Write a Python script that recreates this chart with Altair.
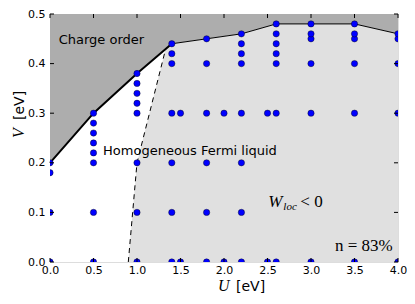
import altair as alt
import pandas as pd

# ---- data ----
point_U = ([0.0] * 4 + [0.5] * 8 + [1.0] * 8 + [1.4] * 7 + [1.5] * 2 + [1.8] * 6 +
           [2.0] * 2 + [2.2] * 8 + [2.5] * 2 + [2.6] * 7 + [3.0] * 6 + [3.5] * 6 + [4.0] * 5)
point_V = ([0.0, 0.1, 0.18, 0.2] +
           [0.0, 0.1, 0.2, 0.22, 0.24, 0.26, 0.28, 0.3] +
           [0.0, 0.1, 0.2, 0.3, 0.32, 0.34, 0.36, 0.38] +
           [0.0, 0.1, 0.2, 0.3, 0.4, 0.42, 0.44] +
           [0.0, 0.3] +
           [0.0, 0.1, 0.2, 0.3, 0.4, 0.45] +
           [0.0, 0.3] +
           [0.0, 0.1, 0.2, 0.3, 0.4, 0.42, 0.44, 0.46] +
           [0.0, 0.3] +
           [0.0, 0.3, 0.4, 0.42, 0.44, 0.46, 0.48] +
           [0.0, 0.3, 0.4, 0.45, 0.46, 0.48] +
           [0.0, 0.3, 0.4, 0.45, 0.46, 0.48] +
           [0.0, 0.3, 0.4, 0.45, 0.46])

bound_U = [0.0, 0.5, 1.0, 1.4, 1.8, 2.2, 2.6, 3.0, 3.5, 4.0]
bound_V = [0.2, 0.3, 0.38, 0.44, 0.45, 0.46, 0.48, 0.48, 0.48, 0.46]
thick_U = [0.0, 0.5, 1.0, 1.4]
thick_V = [0.2, 0.3, 0.38, 0.44]
thin_U = [1.4, 1.8, 2.2, 2.6, 3.0, 3.5, 4.0]
thin_V = [0.44, 0.45, 0.46, 0.48, 0.48, 0.48, 0.46]

dash_U = [0.9, 1.0, 1.33]
dash_V = [0.0, 0.2, 0.43]

white_U = [0.0, 0.5, 0.9, 1.0, 1.33]
white_top = [0.2, 0.3, 0.364, 0.38, 0.43]
white_bot = [0.0, 0.0, 0.0, 0.2, 0.43]

x_ticks = [0.0, 0.5, 1.0, 1.5, 2.0, 2.5, 3.0, 3.5, 4.0]
y_ticks = [0.0, 0.1, 0.2, 0.3, 0.4, 0.5]

W, H = 348, 248
TL = 4

xs = alt.Scale(domain=[0, 4], nice=False, zero=False)
ys = alt.Scale(domain=[0, 0.5], nice=False, zero=False)
xa = alt.Axis(values=x_ticks, format=".1f", ticks=False, tickSize=0, domain=False, grid=False,
              labelPadding=2, labelFontSize=11, labelFont="DejaVu Sans", labelColor="black",
              title=None, labelFlush=False, labelOverlap=False, labelBound=False)
ya = alt.Axis(values=y_ticks, format=".1f", ticks=False, tickSize=0, domain=False, grid=False,
              labelPadding=5, labelFontSize=11, labelFont="DejaVu Sans", labelColor="black",
              title=None, labelFlush=False, labelOverlap=False, labelBound=False)


def X(f):
    return alt.X(f, scale=xs, axis=xa, title=None)


def Y(f):
    return alt.Y(f, scale=ys, axis=ya, title=None)


bdf = pd.DataFrame({"U": bound_U, "V": bound_V, "top": [0.5] * len(bound_U), "bot": [0.0] * len(bound_U)})

dark = alt.Chart(bdf).mark_area(color="#adadad", opacity=1).encode(x=X("U:Q"), y=Y("top:Q"), y2="V:Q")
light = alt.Chart(bdf).mark_area(color="#e0e0e0", opacity=1).encode(x=X("U:Q"), y=Y("V:Q"), y2="bot:Q")

wdf = pd.DataFrame({"U": white_U, "top": white_top, "bot": white_bot})
white = alt.Chart(wdf).mark_area(color="white", opacity=1).encode(x=X("U:Q"), y=Y("top:Q"), y2="bot:Q")

thick = alt.Chart(pd.DataFrame({"U": thick_U, "V": thick_V})).mark_line(
    color="black", strokeWidth=2).encode(x=X("U:Q"), y=Y("V:Q"))
thin = alt.Chart(pd.DataFrame({"U": thin_U, "V": thin_V})).mark_line(
    color="black", strokeWidth=1).encode(x=X("U:Q"), y=Y("V:Q"))
dashed = alt.Chart(pd.DataFrame({"U": dash_U, "V": dash_V})).mark_line(
    color="black", strokeWidth=1, strokeDash=[5, 4]).encode(x=X("U:Q"), y=Y("V:Q"))

pts = alt.Chart(pd.DataFrame({"U": point_U, "V": point_V})).mark_circle(
    size=40, color="#0000ff", opacity=1, stroke="black", strokeWidth=0.4, clip=True).encode(
    x=X("U:Q"), y=Y("V:Q"))

# tick marks (inside, all four sides)
xt = pd.DataFrame({"t": x_ticks})
yt = pd.DataFrame({"t": y_ticks})
tb = alt.Chart(xt).mark_rule(color="black", strokeWidth=1).encode(
    x=X("t:Q"), y=alt.value(H), y2=alt.value(H - TL))
tt = alt.Chart(xt).mark_rule(color="black", strokeWidth=1).encode(
    x=X("t:Q"), y=alt.value(0), y2=alt.value(TL))
tlft = alt.Chart(yt).mark_rule(color="black", strokeWidth=1).encode(
    y=Y("t:Q"), x=alt.value(0), x2=alt.value(TL))
trgt = alt.Chart(yt).mark_rule(color="black", strokeWidth=1).encode(
    y=Y("t:Q"), x=alt.value(W), x2=alt.value(W - TL))

# annotations
ann_text = ["Charge order", "Homogeneous Fermi liquid"]
ann_U = [0.10, 0.61]
ann_V = [0.44, 0.215]
ann = alt.Chart(pd.DataFrame({"U": ann_U, "V": ann_V, "s": ann_text})).mark_text(
    align="left", baseline="alphabetic", font="DejaVu Sans", fontSize=13, color="black").encode(
    x=X("U:Q"), y=Y("V:Q"), text="s:N")

w_df = pd.DataFrame({"U": [2.51], "V": [0.11], "a": ["W"], "b": ["loc"], "c": ["< 0"]})
wa = alt.Chart(w_df).mark_text(align="left", baseline="alphabetic", font="Liberation Serif",
                               fontStyle="italic", fontSize=17, color="black").encode(
    x=X("U:Q"), y=Y("V:Q"), text="a:N")
wb = alt.Chart(w_df).mark_text(align="left", baseline="alphabetic", font="Liberation Serif",
                               fontStyle="italic", fontSize=11, color="black", dx=15, dy=3).encode(
    x=X("U:Q"), y=Y("V:Q"), text="b:N")
wc = alt.Chart(w_df).mark_text(align="left", baseline="alphabetic", font="Liberation Serif",
                               fontSize=17, color="black", dx=32).encode(
    x=X("U:Q"), y=Y("V:Q"), text="c:N")

n_df = pd.DataFrame({"U": [3.94], "V": [0.022], "s": ["n = 83%"]})
ntext = alt.Chart(n_df).mark_text(align="right", baseline="alphabetic", font="Liberation Serif",
                                  fontSize=17, color="black").encode(
    x=X("U:Q"), y=Y("V:Q"), text="s:N")

# axis titles
xt_sym = alt.Chart(pd.DataFrame({"s": ["U"]})).mark_text(
    align="left", baseline="alphabetic", font="Liberation Serif", fontStyle="italic",
    fontSize=16, color="black").encode(x=alt.value(168), y=alt.value(277), text="s:N")
xt_unit = alt.Chart(pd.DataFrame({"s": ["[eV]"]})).mark_text(
    align="left", baseline="alphabetic", font="DejaVu Sans", fontSize=14, color="black").encode(
    x=alt.value(186), y=alt.value(277), text="s:N")
yt_sym = alt.Chart(pd.DataFrame({"s": ["V"]})).mark_text(
    align="left", baseline="alphabetic", font="Liberation Serif", fontStyle="italic", angle=270,
    fontSize=16, color="black").encode(x=alt.value(-26), y=alt.value(124), text="s:N")
yt_unit = alt.Chart(pd.DataFrame({"s": ["[eV]"]})).mark_text(
    align="left", baseline="alphabetic", font="DejaVu Sans", fontSize=14, angle=270,
    color="black").encode(x=alt.value(-26), y=alt.value(106), text="s:N")

chart = alt.layer(
    dark, light, white, thick, thin, dashed, pts, tb, tt, tlft, trgt,
    ann, wa, wb, wc, ntext, xt_sym, xt_unit, yt_sym, yt_unit
).properties(
    width=W, height=H,
    autosize=alt.AutoSizeParams(type="none"),
    padding={"left": 42, "top": 6, "right": 9, "bottom": 34},
).configure_view(stroke="black", strokeWidth=1).configure(background="white")

chart.save("out.html", embed_options={"renderer": "svg", "actions": False})
